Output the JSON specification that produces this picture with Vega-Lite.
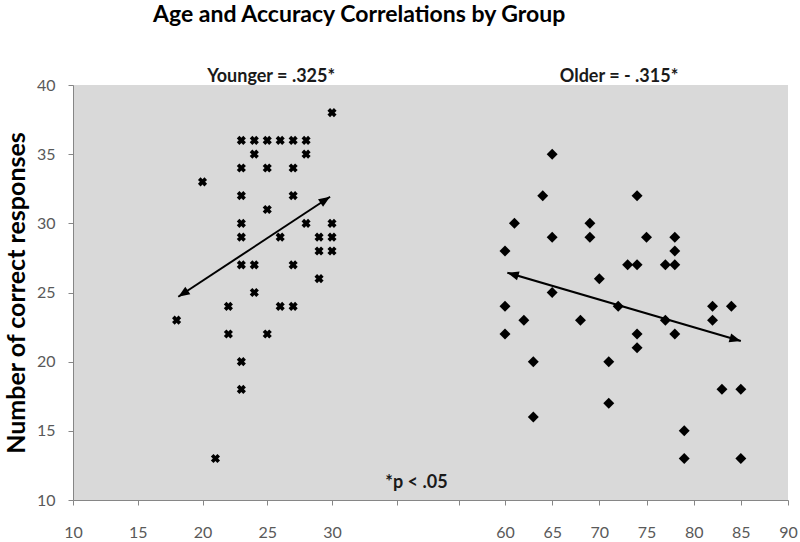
{
  "$schema": "https://vega.github.io/schema/vega-lite/v6.json",
  "width": 715,
  "height": 415,
  "autosize": {"type": "none"},
  "padding": {"left": 73, "top": 85, "right": 12, "bottom": 42},
  "background": "white",
  "config": {
    "view": {"fill": "#d9d9d9", "stroke": null},
    "font": "Lato"
  },
  "title": {
    "text": "Age and Accuracy Correlations by Group",
    "anchor": "start",
    "frame": "group",
    "dx": 80,
    "dy": -37,
    "fontSize": 23,
    "font": "Lato",
    "fontWeight": "bold",
    "color": "#000000"
  },
  "datasets": {
    "points": [
      {"group": "Younger", "age": 30, "score": 38},
      {"group": "Younger", "age": 23, "score": 36},
      {"group": "Younger", "age": 24, "score": 36},
      {"group": "Younger", "age": 25, "score": 36},
      {"group": "Younger", "age": 26, "score": 36},
      {"group": "Younger", "age": 27, "score": 36},
      {"group": "Younger", "age": 28, "score": 36},
      {"group": "Younger", "age": 24, "score": 35},
      {"group": "Younger", "age": 28, "score": 35},
      {"group": "Younger", "age": 23, "score": 34},
      {"group": "Younger", "age": 25, "score": 34},
      {"group": "Younger", "age": 27, "score": 34},
      {"group": "Younger", "age": 20, "score": 33},
      {"group": "Younger", "age": 23, "score": 32},
      {"group": "Younger", "age": 27, "score": 32},
      {"group": "Younger", "age": 25, "score": 31},
      {"group": "Younger", "age": 23, "score": 30},
      {"group": "Younger", "age": 28, "score": 30},
      {"group": "Younger", "age": 30, "score": 30},
      {"group": "Younger", "age": 23, "score": 29},
      {"group": "Younger", "age": 26, "score": 29},
      {"group": "Younger", "age": 29, "score": 29},
      {"group": "Younger", "age": 30, "score": 29},
      {"group": "Younger", "age": 29, "score": 28},
      {"group": "Younger", "age": 30, "score": 28},
      {"group": "Younger", "age": 23, "score": 27},
      {"group": "Younger", "age": 24, "score": 27},
      {"group": "Younger", "age": 27, "score": 27},
      {"group": "Younger", "age": 29, "score": 26},
      {"group": "Younger", "age": 24, "score": 25},
      {"group": "Younger", "age": 22, "score": 24},
      {"group": "Younger", "age": 26, "score": 24},
      {"group": "Younger", "age": 27, "score": 24},
      {"group": "Younger", "age": 18, "score": 23},
      {"group": "Younger", "age": 22, "score": 22},
      {"group": "Younger", "age": 25, "score": 22},
      {"group": "Younger", "age": 23, "score": 20},
      {"group": "Younger", "age": 23, "score": 18},
      {"group": "Younger", "age": 21, "score": 13},
      {"group": "Older", "age": 65, "score": 35},
      {"group": "Older", "age": 64, "score": 32},
      {"group": "Older", "age": 74, "score": 32},
      {"group": "Older", "age": 61, "score": 30},
      {"group": "Older", "age": 69, "score": 30},
      {"group": "Older", "age": 65, "score": 29},
      {"group": "Older", "age": 69, "score": 29},
      {"group": "Older", "age": 75, "score": 29},
      {"group": "Older", "age": 78, "score": 29},
      {"group": "Older", "age": 60, "score": 28},
      {"group": "Older", "age": 78, "score": 28},
      {"group": "Older", "age": 73, "score": 27},
      {"group": "Older", "age": 74, "score": 27},
      {"group": "Older", "age": 77, "score": 27},
      {"group": "Older", "age": 78, "score": 27},
      {"group": "Older", "age": 70, "score": 26},
      {"group": "Older", "age": 65, "score": 25},
      {"group": "Older", "age": 60, "score": 24},
      {"group": "Older", "age": 72, "score": 24},
      {"group": "Older", "age": 82, "score": 24},
      {"group": "Older", "age": 84, "score": 24},
      {"group": "Older", "age": 62, "score": 23},
      {"group": "Older", "age": 68, "score": 23},
      {"group": "Older", "age": 77, "score": 23},
      {"group": "Older", "age": 82, "score": 23},
      {"group": "Older", "age": 60, "score": 22},
      {"group": "Older", "age": 74, "score": 22},
      {"group": "Older", "age": 78, "score": 22},
      {"group": "Older", "age": 74, "score": 21},
      {"group": "Older", "age": 63, "score": 20},
      {"group": "Older", "age": 71, "score": 20},
      {"group": "Older", "age": 83, "score": 18},
      {"group": "Older", "age": 85, "score": 18},
      {"group": "Older", "age": 71, "score": 17},
      {"group": "Older", "age": 63, "score": 16},
      {"group": "Older", "age": 79, "score": 15},
      {"group": "Older", "age": 79, "score": 13},
      {"group": "Older", "age": 85, "score": 13}
    ],
    "arrows": [
      {"group": "Younger", "x1": 18.13, "y1": 24.69, "x2": 29.85, "y2": 31.92},
      {"group": "Older", "x1": 60.25, "y1": 26.43, "x2": 85.0, "y2": 21.49}
    ],
    "notes": [
      {"note": "Younger = .325*", "nx": 25.3, "ny": 40.58},
      {"note": "Older =  - .315*", "nx": 72.09, "ny": 40.58},
      {"note": "*p < .05", "nx": 44.65, "ny": 11.22}
    ]
  },
  "layer": [
    {
      "data": {"name": "points"},
      "transform": [{"filter": "datum.group === 'Younger'"}],
      "mark": {"type": "point", "shape": "cross", "angle": 45, "filled": true, "size": 85, "color": "#000000", "opacity": 1, "strokeWidth": 0},
      "encoding": {
        "x": {
          "field": "age",
          "type": "quantitative",
          "scale": {"domain": [10, 30, 60, 90], "range": [0, 259, 432, 715], "nice": false, "zero": false},
          "axis": {
            "title": null,
            "grid": false,
            "values": [10, 15, 20, 25, 30, 41.27, 52.02, 60, 65, 70, 75, 80, 85, 90],
            "labelExpr": "(datum.value > 31 && datum.value < 59) ? '' : datum.label",
            "domainColor": "#868686",
            "tickColor": "#868686",
            "tickSize": 5,
            "labelPadding": 19,
            "labelFontSize": 16,
            "labelFont": "Lato",
            "labelColor": "#595959",
            "labelBound": false,
            "labelOverlap": false,
            "labelFlush": false
          }
        },
        "y": {
          "field": "score",
          "type": "quantitative",
          "scale": {"domain": [10, 40], "nice": false, "zero": false},
          "axis": {
            "title": "Number of correct responses",
            "titleFont": "Lato",
            "titleFontSize": 25,
            "titleFontWeight": "bold",
            "titleColor": "#000000",
            "titleX": -57,
            "titleBaseline": "middle",
            "grid": false,
            "values": [10, 15, 20, 25, 30, 35, 40],
            "domainColor": "#868686",
            "tickColor": "#868686",
            "tickSize": 5,
            "labelPadding": 13,
            "labelFontSize": 16,
            "labelFont": "Lato",
            "labelColor": "#595959",
            "labelOverlap": false,
            "labelFlush": false
          }
        }
      }
    },
    {
      "data": {"name": "points"},
      "transform": [{"filter": "datum.group === 'Older'"}],
      "mark": {"type": "point", "shape": "diamond", "filled": true, "size": 120, "color": "#000000", "opacity": 1, "strokeWidth": 0},
      "encoding": {
        "x": {"field": "age", "type": "quantitative"},
        "y": {"field": "score", "type": "quantitative"}
      }
    },
    {
      "data": {"name": "arrows"},
      "mark": {"type": "rule", "color": "#000000", "strokeWidth": 2},
      "encoding": {
        "x": {"field": "x1", "type": "quantitative"},
        "y": {"field": "y1", "type": "quantitative"},
        "x2": {"field": "x2"},
        "y2": {"field": "y2"}
      }
    },
    {
      "data": {"name": "arrows"},
      "transform": [{"filter": "datum.group === 'Younger'"}],
      "mark": {"type": "point", "shape": "M0,0L-2,-0.8L-2,0.8Z", "angle": 326.62, "filled": true, "size": 130, "color": "#000000", "opacity": 1, "strokeWidth": 0},
      "encoding": {
        "x": {"field": "x2", "type": "quantitative"},
        "y": {"field": "y2", "type": "quantitative"}
      }
    },
    {
      "data": {"name": "arrows"},
      "transform": [{"filter": "datum.group === 'Younger'"}],
      "mark": {"type": "point", "shape": "M0,0L-2,-0.8L-2,0.8Z", "angle": 146.62, "filled": true, "size": 130, "color": "#000000", "opacity": 1, "strokeWidth": 0},
      "encoding": {
        "x": {"field": "x1", "type": "quantitative"},
        "y": {"field": "y1", "type": "quantitative"}
      }
    },
    {
      "data": {"name": "arrows"},
      "transform": [{"filter": "datum.group === 'Older'"}],
      "mark": {"type": "point", "shape": "M0,0L-2,-0.8L-2,0.8Z", "angle": 16.31, "filled": true, "size": 130, "color": "#000000", "opacity": 1, "strokeWidth": 0},
      "encoding": {
        "x": {"field": "x2", "type": "quantitative"},
        "y": {"field": "y2", "type": "quantitative"}
      }
    },
    {
      "data": {"name": "arrows"},
      "transform": [{"filter": "datum.group === 'Older'"}],
      "mark": {"type": "point", "shape": "M0,0L-2,-0.8L-2,0.8Z", "angle": 196.31, "filled": true, "size": 130, "color": "#000000", "opacity": 1, "strokeWidth": 0},
      "encoding": {
        "x": {"field": "x1", "type": "quantitative"},
        "y": {"field": "y1", "type": "quantitative"}
      }
    },
    {
      "data": {"name": "notes"},
      "mark": {"type": "text", "font": "Lato", "fontWeight": "bold", "fontSize": 18, "color": "#1a1a1a", "baseline": "middle", "align": "center"},
      "encoding": {
        "text": {"field": "note"},
        "x": {"field": "nx", "type": "quantitative"},
        "y": {"field": "ny", "type": "quantitative"}
      }
    }
  ]
}
